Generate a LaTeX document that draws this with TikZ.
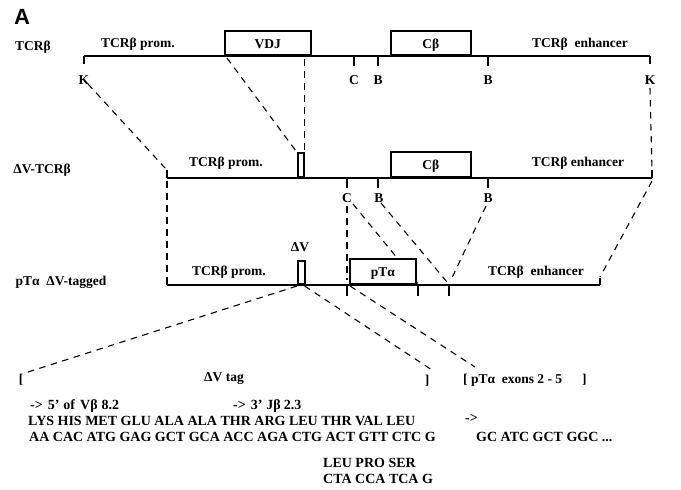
\documentclass[tikz,border=0pt]{standalone}
\usepackage{fontspec}
\setmainfont{Liberation Serif}
\newfontfamily\panelfont{Liberation Sans}
\begin{document}
\begin{tikzpicture}[x=1pt,y=-1pt,
  dna/.style={line width=1.8pt},
  tick/.style={line width=1.6pt},
  gbox/.style={draw, line width=1.6pt, fill=white, anchor=south west, inner sep=0pt, text height=11pt, text depth=1pt, font=\fontsize{13.5}{13.5}\selectfont\bfseries},
  conn/.style={line width=1.1pt, dash pattern=on 6.5pt off 5.5pt},
  lab/.style={font=\fontsize{13.5}{13.5}\selectfont\bfseries, inner sep=0pt},
  site/.style={font=\fontsize{13.5}{13.5}\selectfont\bfseries, inner sep=0pt},
  seq/.style={font=\fontsize{14}{14}\selectfont\bfseries, inner sep=0pt, anchor=west},
  note/.style={font=\fontsize{14}{14}\selectfont\bfseries, inner sep=0pt, anchor=west}]
\useasboundingbox (0,0) rectangle (681,490);
\fill[white] (0,0) rectangle (681,490);
\node[font=\panelfont\fontsize{22}{22}\selectfont\bfseries, inner sep=0pt] (pA) at (22,17) {A};

% ---------- Row 1: TCRbeta ----------
\coordinate (r1L) at (84,56);
\coordinate (r1R) at (650,56);
\draw[dna] (r1L) -- (r1R);
\node[gbox, minimum width=86pt, minimum height=24pt] (vdj) at (224,56) {VDJ};
\node[gbox, minimum width=80pt, minimum height=24pt] (cb1) at (390,56) {Cβ};
\draw[tick] (84,56) -- (84,64);
\draw[tick] (354,56) -- (354,66);
\draw[tick] (378,56) -- (378,66);
\draw[tick] (488,56) -- (488,66);
\draw[tick] (650,56) -- (650,64);
\node[lab] (t1) at (33,47) {TCRβ};
\node[lab] (p1) at (138,44) {TCRβ prom.};
\node[lab] (e1) at (580,44) {TCRβ\ \ enhancer};
\node[site] (k1) at (84,80) {K};
\node[site] (c1) at (354,80) {C};
\node[site] (b1) at (378,80) {B};
\node[site] (b2) at (488,80) {B};
\node[site] (k2) at (650,80) {K};

% ---------- Row 2: DeltaV-TCRbeta ----------
\coordinate (r2L) at (167,178);
\coordinate (r2R) at (652,178);
\draw[dna] (r2L) -- (r2R);
\draw[tick] (167,170) -- (167,178);
\draw[tick] (652,170) -- (652,178);
\node[gbox, minimum width=6pt, minimum height=24pt] (dv2) at (297,178) {};
\node[gbox, minimum width=80pt, minimum height=25pt] (cb2) at (390,178) {Cβ};
\draw[tick] (347,178) -- (347,188);
\draw[tick] (378,178) -- (378,188);
\draw[tick] (488,178) -- (488,188);
\node[lab] (t2) at (42,170) {ΔV-TCRβ};
\node[lab] (p2) at (226,163) {TCRβ prom.};
\node[lab] (e2) at (578,163) {TCRβ enhancer};
\node[site] (c2) at (347,198) {C};
\node[site] (b3) at (379,198) {B};
\node[site] (b4) at (488,198) {B};

% connectors row1 -> row2
\draw[conn] (88,84) -- (165,168);
\draw[conn] (vdj.south west) ++(3,2) -- (dv2.north west);
\draw[conn] (vdj.south east) ++(-7,3) -- (dv2.north east);
\draw[conn] (650,88) -- (652,170);

% ---------- Row 3: pTalpha DeltaV-tagged ----------
\coordinate (r3L) at (167,285);
\coordinate (r3R) at (600,285);
% connectors row2 -> row3 (drawn below boxes)
\draw[conn] (167,181) -- (167,277);
\draw[conn] (347,206) -- (347,280);
\draw[conn] (353,204) -- (420,286);
\draw[conn] (381,203) -- (447,282);
\draw[conn] (486,206) -- (450,282);
\draw[conn] (652,181) -- (600,277);
\draw[dna] (r3L) -- (r3R);
\draw[tick] (167,277) -- (167,285);
\draw[tick] (600,278) -- (600,285);
\node[gbox, minimum width=7pt, minimum height=23pt] (dv3) at (297,285) {};
\node[gbox, minimum width=66pt, minimum height=25pt] (pta) at (349,285) {pTα};
\draw[tick] (347,285) -- (347,296);
\draw[tick] (418,285) -- (418,296);
\draw[tick] (449,285) -- (449,296);
\node[lab] (t3) at (61,282) {pTα\ \ ΔV-tagged};
\node[lab] (dvl) at (300,247) {ΔV};
\node[lab] (p3) at (229,272) {TCRβ prom.};
\node[lab] (e3) at (536,272) {TCRβ\ \ enhancer};

% ---------- Bottom sequence ----------
\node[lab] (lb1) at (21,380) {[};
\node[lab] (tag) at (224,379) {ΔV tag};
\node[lab] (rb1) at (427,381) {]};
\node[lab, anchor=west] (ex) at (463,380) {[ pTα\ \ exons 2 - 5\hspace{20pt}]};
\draw[conn] (dv3.south west) ++(0,1) -- (28,372);
\draw[conn] (dv3.south east) ++(-1,1) -- (432,370);
\draw[conn] (pta.south west) ++(1,1) -- (475,367);

\node[note] (a5) at (30,406) {->\hspace{5pt}5'\hspace{4pt}of\hspace{5pt}Vβ\hspace{4pt}8.2};
\node[note] (a3) at (233,406) {->\hspace{5pt}3'\hspace{4pt}Jβ\hspace{3pt}2.3};
\node[seq] (aa1) at (28,421) {LYS HIS MET GLU ALA ALA THR ARG LEU THR VAL LEU};
\node[seq] (nt1) at (29,437) {AA CAC ATG GAG GCT GCA ACC AGA CTG ACT GTT CTC G};
\node[note] (arr) at (465,418) {->};
\node[seq] (nt2) at (476,437) {GC ATC GCT GGC ...};
\node[seq] (aa2) at (323,463) {LEU PRO SER};
\node[seq] (nt3) at (323,479) {CTA CCA TCA G};
\end{tikzpicture}
\end{document}
